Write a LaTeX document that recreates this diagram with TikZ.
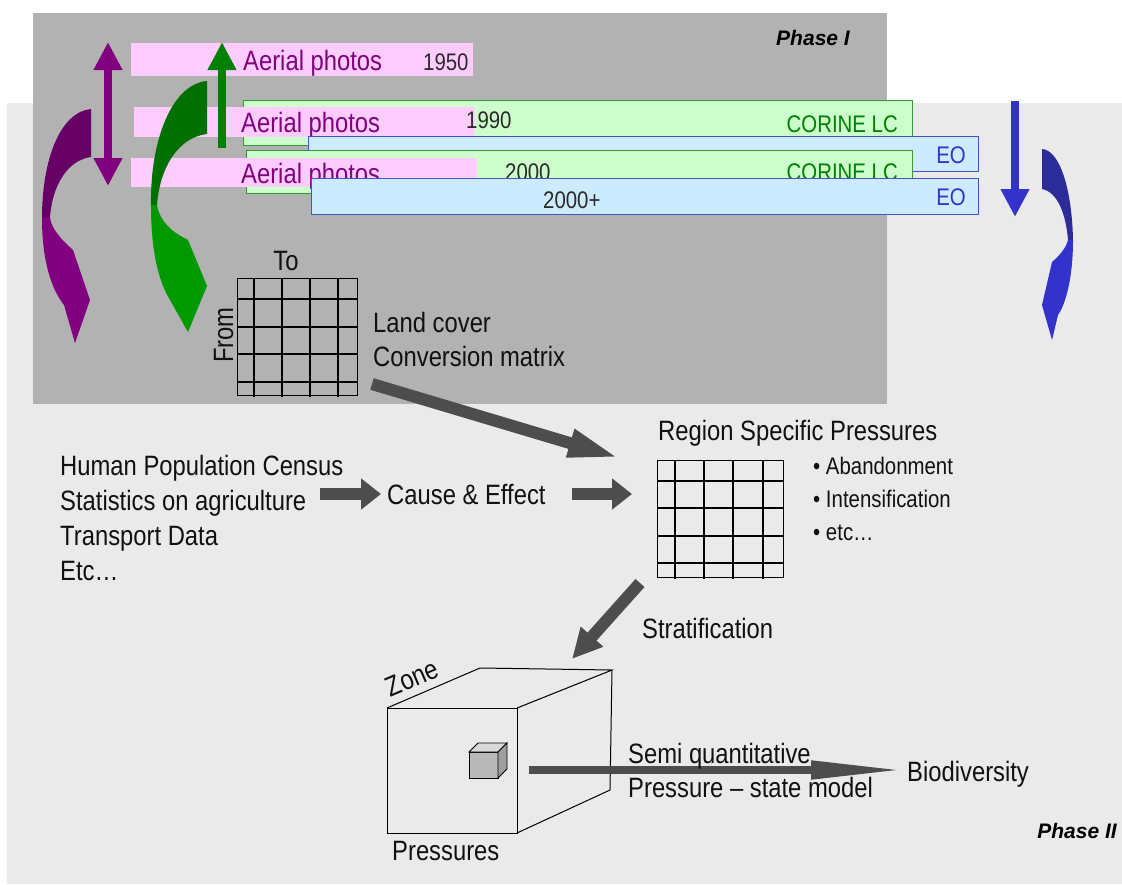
\documentclass[tikz,border=0pt]{standalone}
\usepackage{fontspec}
\setmainfont{Liberation Sans}[FakeStretch=0.85]
\newfontfamily\phasefont{Liberation Sans}
\usetikzlibrary{arrows.meta}
\definecolor{darkbg}{HTML}{B2B2B2}
\definecolor{lightbg}{HTML}{EAEAEA}
\definecolor{pinkc}{HTML}{FFCCFF}
\definecolor{greenc}{HTML}{CCFFCC}
\definecolor{greenb}{HTML}{339933}
\definecolor{bluec}{HTML}{CCEBFF}
\definecolor{blueb}{HTML}{4455CC}
\definecolor{purp}{HTML}{800080}
\definecolor{purpdark}{HTML}{660066}
\definecolor{grn}{HTML}{008000}
\definecolor{grnfront}{HTML}{009900}
\definecolor{grndark}{HTML}{007000}
\definecolor{blu}{HTML}{3333CC}
\definecolor{bludark}{HTML}{2B2B99}
\definecolor{arrowc}{HTML}{4D4D4D}
\definecolor{ink}{HTML}{111111}
\definecolor{yearc}{HTML}{2A2A2A}
\tikzset{vtip/.tip={Triangle[length=28pt,width=27pt]}}
\begin{document}
\begin{tikzpicture}[x=1pt,y=-1pt,
  txt/.style={inner sep=0pt, anchor=base west, text=ink, font=\fontsize{28}{34}\selectfont},
  stxt/.style={inner sep=0pt, anchor=base west, font=\fontsize{24}{29}\selectfont},
  pinkstrip/.style={fill=pinkc, draw=none, anchor=north west, inner sep=0pt},
  greenstrip/.style={fill=greenc, draw=greenb, line width=1.2pt, anchor=north west, inner sep=0pt},
  bluestrip/.style={fill=bluec, draw=blueb, line width=1.2pt, anchor=north west, inner sep=0pt},
  fatarrow/.style={draw=arrowc, line width=12pt, -{Triangle[length=20pt,width=30pt]}},
  gridline/.style={draw=black, line width=1.4pt},
  cubeline/.style={draw=black, line width=1pt},
  phase/.style={inner sep=0pt, font=\phasefont\fontsize{21}{25}\bfseries\itshape\selectfont, text=black}
]
\useasboundingbox (0,0) rectangle (1122,884);
% backgrounds
\fill[lightbg] (7,103) rectangle (1122,884);
\fill[darkbg] (33,13) rectangle (887,404);
\node[phase] (ph1) at (813,38) {Phase I};
\node[phase] (ph2) at (1077,831) {Phase II};

% strips
\node[pinkstrip, minimum width=342pt, minimum height=33pt] (p1) at (131,43) {};
\node[txt, text=purp] (p1t) at (243,70) {Aerial photos};
\node[stxt, text=yearc] (y1950) at (423,70) {1950};

\node[greenstrip, minimum width=669pt, minimum height=45pt] (g1) at (243,100) {};
\node[stxt, anchor=base east, text=grn] (g1t) at (898,132) {CORINE LC};

\node[pinkstrip, minimum width=341pt, minimum height=30pt] (p2) at (134,107) {};
\node[txt, text=purp] (p2t) at (241,132) {Aerial photos};
\node[stxt, text=yearc] (y1990) at (466,128) {1990};

\node[bluestrip, minimum width=670pt, minimum height=35pt] (b1) at (308,136) {};
\node[stxt, anchor=base east, text=blu] (b1t) at (966,163) {EO};

\node[greenstrip, minimum width=666pt, minimum height=43pt] (g2) at (246,150) {};
\node[stxt, text=yearc] (y2000) at (505,180) {2000};
\node[stxt, anchor=base east, text=grn] (g2t) at (898,180) {CORINE LC};

\node[pinkstrip, minimum width=346pt, minimum height=29pt] (p3) at (131,158) {};
\node[txt, text=purp] (p3t) at (241,183) {Aerial photos};

\node[bluestrip, minimum width=667pt, minimum height=36pt] (b2) at (311,178) {};
\node[stxt, text=yearc] (y2000p) at (543,208) {2000+};
\node[stxt, anchor=base east, text=blu] (b2t) at (966,205) {EO};

% straight vertical arrows
\coordinate (pa1) at (108,42);
\coordinate (pa2) at (108,186);
\draw[purp, line width=8pt, vtip-vtip] (pa1) -- (pa2);
\coordinate (ga1) at (222,148);
\coordinate (ga2) at (222,42);
\draw[grn, line width=8pt, -vtip] (ga1) -- (ga2);
\coordinate (ba1) at (1015,101);
\coordinate (ba2) at (1015,217);
\draw[blu, line width=8pt, -vtip] (ba1) -- (ba2);

% curved purple arrow
\fill[purpdark] (91,109) -- (91,157) .. controls (68,160) and (52,185) .. (50,218) -- (42,218) .. controls (42,160) and (60,112) .. (91,109) -- cycle;
\fill[purp] (42,218) .. controls (42,262) and (52,290) .. (64,305) -- (75,343) -- (90,300) -- (73,250) .. controls (62,240) and (52,230) .. (50,218) -- cycle;
% curved green arrow
\fill[grndark] (207,81) -- (207,134) .. controls (180,137) and (160,165) .. (157,205) -- (151,205) .. controls (150,140) and (172,84) .. (207,81) -- cycle;
\fill[grnfront] (151,205) .. controls (151,250) and (158,280) .. (170,300) -- (188,332) -- (207,286) -- (188,240) .. controls (172,232) and (160,222) .. (157,205) -- cycle;
% curved blue arrow
\fill[bludark] (1042,149) -- (1042,189) .. controls (1058,192) and (1066,215) .. (1068,240) -- (1073,240) .. controls (1072,190) and (1060,150) .. (1042,149) -- cycle;
\fill[blu] (1073,240) .. controls (1073,280) and (1065,305) .. (1058,315) -- (1052,340) -- (1042,305) -- (1052,262) .. controls (1060,255) and (1066,248) .. (1068,240) -- cycle;

% conversion matrix
\node[gridline, anchor=north west, inner sep=0pt, minimum width=120pt, minimum height=117pt] (cm) at (237,278) {};
\foreach \xx in {254,282,310,338} \draw[gridline] (\xx,278) -- (\xx,397);
\foreach \yy in {299,327,354,382} \draw[gridline] (237,\yy) -- (357,\yy);
\node[txt, anchor=base] (to) at (286,270) {To};
\node[txt, rotate=90] (from) at (233,363) {From};
\node[txt] (lc1) at (373,332) {Land cover};
\node[txt] (lc2) at (373,366) {Conversion matrix};

% region specific pressures matrix
\node[gridline, anchor=north west, inner sep=0pt, minimum width=126pt, minimum height=117pt] (rm) at (657,460) {};
\foreach \xx in {675,704,733,763} \draw[gridline] (\xx,460) -- (\xx,579);
\foreach \yy in {481,508,536,563} \draw[gridline] (657,\yy) -- (783,\yy);
\node[txt] (rsp) at (658,440) {Region Specific Pressures};
\node[stxt, text=ink] (bl1) at (813,474) {• Abandonment};
\node[stxt, text=ink] (bl2) at (813,507) {• Intensification};
\node[stxt, text=ink] (bl3) at (813,540) {• etc…};

% left list
\node[txt] (l1) at (60,475) {Human Population Census};
\node[txt] (l2) at (60,510) {Statistics on agriculture};
\node[txt] (l3) at (60,545) {Transport Data};
\node[txt] (l4) at (60,580) {Etc…};
\node[txt] (ce) at (387,504) {Cause \& Effect};

% fat arrows
\coordinate (a1s) at (372,384);
\coordinate (a1e) at (620,458);
\draw[draw=arrowc, line width=12pt, -{Triangle[length=52pt,width=26pt]}] (a1s) -- (a1e);
\coordinate (a2s) at (320,494);
\coordinate (a2e) at (381,494);
\draw[fatarrow] (a2s) -- (a2e);
\coordinate (a3s) at (572,494);
\coordinate (a3e) at (632,494);
\draw[fatarrow] (a3s) -- (a3e);
\coordinate (a4s) at (640,583);
\coordinate (a4e) at (572,659);
\draw[draw=arrowc, line width=12pt, -{Triangle[length=30pt,width=28pt]}] (a4s) -- (a4e);
\node[txt] (strat) at (642,638) {Stratification};

% cube
\coordinate (F1) at (387,708);
\coordinate (F2) at (517,708);
\coordinate (F3) at (517,833);
\coordinate (F4) at (387,833);
\coordinate (B1) at (480,668);
\coordinate (B2) at (612,670);
\coordinate (B3) at (610,790);
\draw[cubeline] (F1) -- (F2) -- (F3) -- (F4) -- cycle;
\draw[cubeline] (F1) -- (B1) -- (B2) -- (F2);
\draw[cubeline] (B2) -- (B3) -- (F3);
\node[txt, rotate=23, anchor=center] (zone) at (412,678) {Zone};
\node[txt] (press) at (392,860) {Pressures};
% small cube
\filldraw[fill=gray!55, draw=black, line width=0.8pt] (469,752) rectangle (498,778);
\filldraw[fill=gray!30, draw=black, line width=0.8pt] (469,752) -- (478,743) -- (507,743) -- (498,752) -- cycle;
\filldraw[fill=gray!75, draw=black, line width=0.8pt] (498,752) -- (507,743) -- (507,769) -- (498,778) -- cycle;

% biodiversity arrow
\coordinate (a5s) at (529,770);
\coordinate (a5e) at (906,770);
\draw[draw=arrowc, line width=8pt, -{Triangle[length=95pt,width=17pt]}] (a5s) -- (a5e);
\node[txt] (sq1) at (628,763) {Semi quantitative};
\node[txt] (sq2) at (628,797) {Pressure – state model};
\node[txt] (bio) at (907,781) {Biodiversity};
\end{tikzpicture}
\end{document}
